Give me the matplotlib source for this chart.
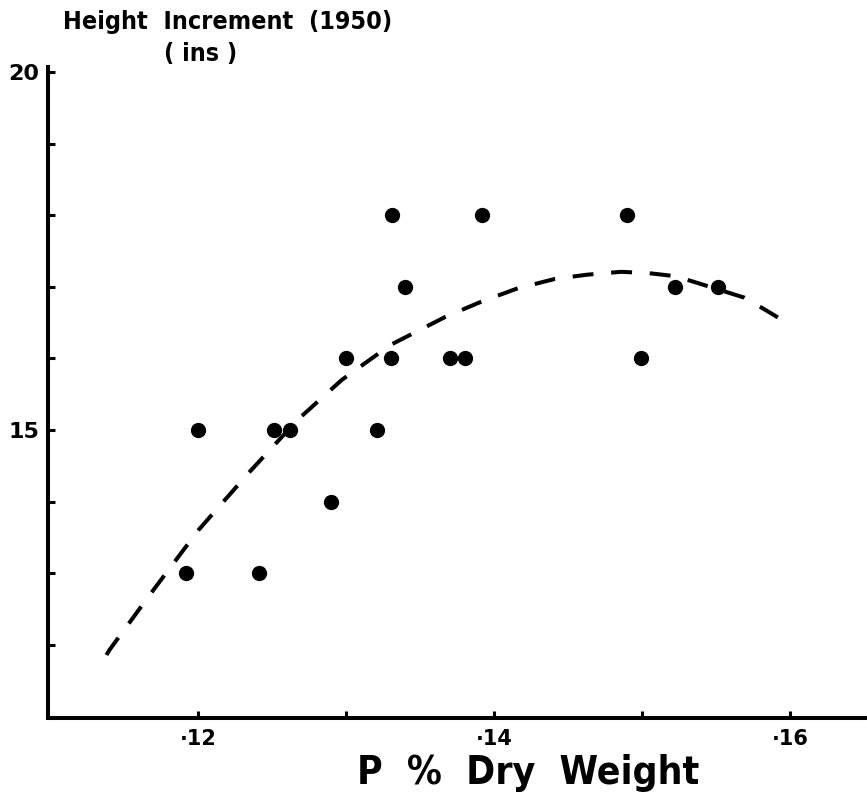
import matplotlib
matplotlib.use("Agg")
import matplotlib.pyplot as plt

# Observed points (P % dry weight, height increment in inches)
p_pct = [0.1192, 0.1200, 0.1241, 0.1251, 0.1262, 0.1290, 0.1300, 0.1321,
         0.1331, 0.1330, 0.1340, 0.1370, 0.1380, 0.1392, 0.1490, 0.1499,
         0.1522, 0.1551]
height = [13, 15, 13, 15, 15, 14, 16, 15,
          18, 16, 17, 16, 16, 18, 18, 16,
          17, 17]

# Fitted trend curve
curve_x = [0.1138, 0.1140, 0.1168, 0.1200, 0.1234, 0.1267, 0.1297, 0.1330,
           0.1367, 0.1391, 0.1416, 0.1441, 0.1463, 0.1486, 0.1505, 0.1522,
           0.1535, 0.1569, 0.1584, 0.1600]
curve_y = [11.86, 11.93, 12.72, 13.60, 14.40, 15.14, 15.70, 16.19,
           16.58, 16.79, 16.98, 17.11, 17.17, 17.21, 17.19, 17.15,
           17.07, 16.85, 16.67, 16.47]

x_ticks = [0.12, 0.13, 0.14, 0.15, 0.16]
x_ticklabels = ["·12", "", "·14", "", "·16"]
y_ticks = [12, 13, 14, 15, 16, 17, 18, 19, 20]
y_ticklabels = ["", "", "", "15", "", "", "", "", "20"]

fig = plt.figure(figsize=(8.67, 8.01), dpi=100)
ax = fig.add_axes([0.0554, 0.1036, 0.9446, 0.8128])

ax.plot(curve_x, curve_y, color="black", lw=2.9, dashes=(5.2, 4.4),
        dash_capstyle="butt")
ax.plot(p_pct, height, "o", color="black", markersize=11, markeredgewidth=0)

ax.set_xlim(0.10985, 0.1652)
ax.set_ylim(10.98, 20.07)

for s in ["top", "right"]:
    ax.spines[s].set_visible(False)
for s in ["left", "bottom"]:
    ax.spines[s].set_linewidth(2.9)

ax.set_xticks(x_ticks)
ax.set_xticklabels(x_ticklabels, fontsize=15, fontweight="bold")
ax.set_yticks(y_ticks)
ax.set_yticklabels(y_ticklabels, fontsize=16, fontweight="bold")
ax.tick_params(axis="both", direction="in", length=5, width=2.2, pad=8)
ax.tick_params(axis="y", pad=6)

fam = ["DejaVu Sans"]
fig.text(228 / 867, 1 - 22 / 801, "Height  Increment  (1950)", ha="center",
         va="center", fontsize=18, fontweight="bold", family=fam,
         fontstretch="condensed")
fig.text(201 / 867, 1 - 54 / 801, "( ins )", ha="center", va="center",
         fontsize=18, fontweight="bold", family=fam, fontstretch="condensed")
fig.text(528 / 867, 1 - 773 / 801, "P  %  Dry  Weight", ha="center",
         va="center", fontsize=28, fontweight="bold", family=fam,
         fontstretch="condensed")

fig.savefig("out.png", dpi=100)
